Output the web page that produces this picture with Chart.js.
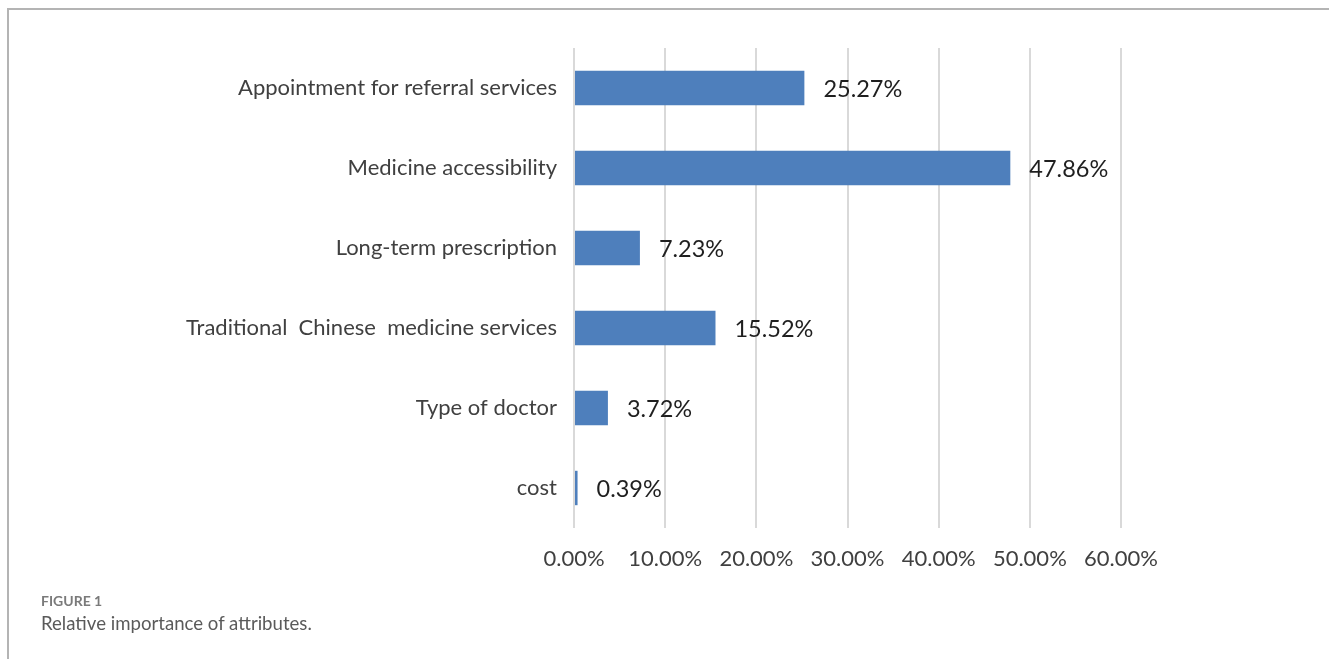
<!DOCTYPE html>
<html>
<head>
<meta charset="utf-8">
<script src="https://cdn.jsdelivr.net/npm/chart.js@4"></script>
<style>
  body { margin: 0; background: #fff; }
  #wrap { position: relative; width: 1329px; height: 659px; overflow: hidden; }
  #frame { position: absolute; left: 7px; top: 8px; right: -4px; bottom: -4px;
           border-top: 2px solid #b4b4b4; border-left: 2px solid #b4b4b4; }
  #chart { position: absolute; left: 0; top: 0; }
  .cap1 { position: absolute; left: 41px; top: 592px; font: bold 14px Lato, sans-serif; color: #7a7a7a; }
  .cap2 { position: absolute; left: 41px; top: 612px; font: 18.6px Lato, sans-serif; color: #5a5a5a; }
</style>
</head>
<body>
<div id="wrap">
  <div id="frame"></div>
  <canvas id="chart" width="1329" height="659"></canvas>
  <div class="cap1">FIGURE 1</div>
  <div class="cap2">Relative importance of attributes.</div>
</div>
<script>
// attributes, top to bottom
var categories = [
  "Appointment for referral services",
  "Medicine accessibility",
  "Long-term prescription",
  "Traditional  Chinese  medicine services",
  "Type of doctor",
  "cost"
];
var importance = [25.27, 47.86, 7.23, 15.52, 3.72, 0.39];
var tickValues = [0, 10, 20, 30, 40, 50, 60];

// draws the percentage next to each bar
var barLabels = {
  id: 'barLabels',
  afterDatasetsDraw: function(chart) {
    var ctx = chart.ctx;
    var meta = chart.getDatasetMeta(0);
    ctx.save();
    ctx.font = '23.5px Lato, sans-serif';
    ctx.fillStyle = '#1f1f1f';
    ctx.textAlign = 'left';
    ctx.textBaseline = 'middle';
    meta.data.forEach(function(bar, i) {
      ctx.fillText(importance[i].toFixed(2) + '%', bar.x + 19, bar.y + 1);
    });
    ctx.restore();
  }
};

var ctx = document.getElementById('chart').getContext('2d');
var chart = new Chart(ctx, {
  type: 'bar',
  data: {
    labels: categories,
    datasets: [{
      data: importance,
      backgroundColor: '#4e7fbc',
      barPercentage: 0.43,
      categoryPercentage: 1
    }]
  },
  options: {
    indexAxis: 'y',
    responsive: false,
    animation: false,
    layout: { padding: { top: 48, right: 208, bottom: 0, left: 0 } },
    plugins: {
      legend: { display: false },
      tooltip: { enabled: false }
    },
    scales: {
      x: {
        min: 0,
        max: 60,
        afterBuildTicks: function(scale) {
          scale.ticks = tickValues.map(function(v) { return { value: v }; });
        },
        afterFit: function(scale) { scale.height = 131; },
        border: { display: false },
        grid: { color: '#d9d9d9', lineWidth: 2, drawTicks: false },
        ticks: {
          padding: 18,
          color: '#404040',
          font: { family: 'Lato', size: 22 },
          callback: function(v) { return v.toFixed(2) + '%'; }
        }
      },
      y: {
        afterFit: function(scale) { scale.width = 574; },
        border: { display: false },
        grid: { display: false, drawTicks: false },
        ticks: {
          padding: 17,
          color: '#404040',
          font: { family: 'Lato', size: 22 }
        }
      }
    }
  },
  plugins: [barLabels]
});
</script>
</body>
</html>
